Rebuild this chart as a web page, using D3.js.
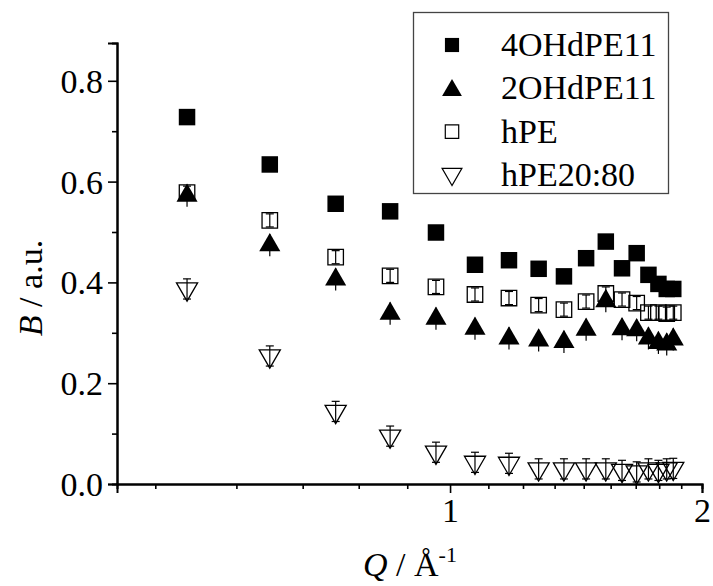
<!DOCTYPE html>
<html>
<head>
<meta charset="utf-8">
<script src="https://cdn.jsdelivr.net/npm/d3@7"></script>
<style>
  html, body { margin: 0; padding: 0; background: #fff; }
  svg { display: block; }
  text { font-family: "Liberation Serif", "Times New Roman", serif; fill: #000; }
</style>
</head>
<body>
<svg id="chart" width="713" height="586"></svg>
<script>
// Scattering vector Q (1/Å), shared by all four samples
const q = [0.485, 0.609, 0.730, 0.848, 0.962, 1.071, 1.176, 1.276, 1.368,
           1.454, 1.535, 1.605, 1.671, 1.726, 1.774, 1.815, 1.848];

// B (a.u.) for each sample
const b4OHdPE11 = [0.728, 0.634, 0.556, 0.541, 0.499, 0.435, 0.444, 0.427, 0.412,
                   0.448, 0.481, 0.428, 0.458, 0.415, 0.397, 0.387, 0.387];
const b2OHdPE11 = [0.572, 0.474, 0.406, 0.338, 0.328, 0.308, 0.289, 0.285, 0.282,
                   0.306, 0.363, 0.307, 0.305, 0.289, 0.280, 0.277, 0.287];
const bhPE      = [0.578, 0.523, 0.450, 0.413, 0.391, 0.376, 0.369, 0.355, 0.346,
                   0.362, 0.378, 0.366, 0.359, 0.340, 0.340, 0.338, 0.340];
const bhPE2080  = [0.387, 0.254, 0.144, 0.095, 0.063, 0.043, 0.041, 0.030, 0.030,
                   0.030, 0.030, 0.027, 0.024, 0.030, 0.027, 0.030, 0.031];

// Error bars (± a.u.)
const e2OHdPE11 = [0.022, 0.022, 0.022, 0.022, 0.022, 0.022, 0.022, 0.022, 0.022,
                   0.022, 0.022, 0.022, 0.022, 0.022, 0.022, 0.022, 0.022];
const ehPE      = [0.013, 0.013, 0.013, 0.013, 0.013, 0.013, 0.013, 0.013, 0.013,
                   0.013, 0.013, 0.013, 0.013, 0.013, 0.013, 0.013, 0.013];
const ehPE2080  = [0.020, 0.020, 0.020, 0.020, 0.020, 0.020, 0.020, 0.020, 0.020,
                   0.020, 0.020, 0.020, 0.020, 0.020, 0.020, 0.020, 0.020];

const seriesNames = ["4OHdPE11", "2OHdPE11", "hPE", "hPE20:80"];

const yTicks = [0.0, 0.2, 0.4, 0.6, 0.8];
const yMinorTicks = [0.1, 0.3, 0.5, 0.7];
const xTicks = [1, 2];
const xMinorTicks = [4/9, 5/9, 6/9, 7/9, 8/9,
                     10/9, 11/9, 12/9, 13/9, 14/9, 15/9, 16/9, 17/9];

const svg = d3.select("#chart");
const plotLeft = 117, plotRight = 702, plotTop = 43, plotBottom = 484;

const x = d3.scaleLog().domain([0.4, 2]).range([plotLeft, plotRight]);
const y = d3.scaleLinear().domain([0, 0.875]).range([plotBottom, plotTop]);

const FONT = 34;

// Axes
const yAxis = d3.axisLeft(y).tickValues(yTicks).tickFormat(d3.format(".1f"))
  .tickSize(9).tickPadding(5);
const yMinor = d3.axisLeft(y).tickValues(yMinorTicks).tickFormat("").tickSize(5);
const xAxis = d3.axisBottom(x).tickValues(xTicks).tickFormat(d3.format("d"))
  .tickSize(9).tickPadding(5);
const xMinor = d3.axisBottom(x).tickValues(xMinorTicks).tickFormat("").tickSize(5);

function styleAxis(g) {
  g.select(".domain").attr("stroke", "#000").attr("stroke-width", 2);
  g.selectAll(".tick line").attr("stroke", "#000").attr("stroke-width", 1.6);
  g.selectAll(".tick text").style("font-size", FONT + "px")
    .style("font-family", '"Liberation Serif", "Times New Roman", serif').attr("fill", "#000");
}

svg.append("g").attr("transform", `translate(${plotLeft},0)`).call(yMinor).call(styleAxis);
svg.append("g").attr("transform", `translate(${plotLeft},0)`).call(yAxis).call(styleAxis)
  .selectAll(".tick text").attr("dy", "0.34em");
svg.append("g").attr("transform", `translate(0,${plotBottom})`).call(xMinor).call(styleAxis);
svg.append("g").attr("transform", `translate(0,${plotBottom})`).call(xAxis).call(styleAxis)
  .selectAll(".tick text").attr("dy", "0.7em");

// Axis titles
const yTitle = svg.append("text")
  .attr("transform", "translate(42,288) rotate(-90)")
  .attr("text-anchor", "middle")
  .style("font-size", FONT + "px");
yTitle.append("tspan").attr("font-style", "italic").text("B");
yTitle.append("tspan").text(" / a.u.");

const xTitle = svg.append("text")
  .attr("x", 410).attr("y", 576)
  .attr("text-anchor", "middle")
  .style("font-size", FONT + "px");
xTitle.append("tspan").attr("font-style", "italic").text("Q");
xTitle.append("tspan").text(" / Å");
xTitle.append("tspan").attr("dy", -14).style("font-size", "22px").text("-1");

// Marker shapes
const sqFilled = d3.symbol().type(d3.symbolSquare).size(272)();
const sqOpen = d3.symbol().type(d3.symbolSquare).size(240)();
const tri = d3.symbol().type(d3.symbolTriangle).size(193)();

const series = [
  { name: seriesNames[0], vals: b4OHdPE11, err: null, path: sqFilled, fill: "#000", rot: 0, cap: 0 },
  { name: seriesNames[1], vals: b2OHdPE11, err: e2OHdPE11, path: tri, fill: "#000", rot: 0, cap: 0 },
  { name: seriesNames[2], vals: bhPE, err: ehPE, path: sqOpen, fill: "none", rot: 0, cap: 8 },
  { name: seriesNames[3], vals: bhPE2080, err: ehPE2080, path: tri, fill: "none", rot: 180, cap: 8 }
];

const plot = svg.append("g");

series.forEach(s => {
  const g = plot.append("g");
  const pts = q.map((qq, i) => ({ q: qq, b: s.vals[i], e: s.err ? s.err[i] : 0 }));
  g.selectAll("path.m").data(pts).join("path")
    .attr("class", "m")
    .attr("d", s.path)
    .attr("transform", d => `translate(${x(d.q)},${y(d.b)}) rotate(${s.rot})`)
    .attr("fill", s.fill)
    .attr("stroke", "#000")
    .attr("stroke-width", s.fill === "none" ? 1.3 : 0);
  if (s.err) {
    const eb = g.selectAll("g.eb").data(pts).join("g").attr("class", "eb");
    eb.append("line")
      .attr("x1", d => x(d.q)).attr("x2", d => x(d.q))
      .attr("y1", d => y(d.b - d.e)).attr("y2", d => y(d.b + d.e))
      .attr("stroke", "#000").attr("stroke-width", 1.2);
    if (s.cap > 0) {
      [-1, 1].forEach(sign => {
        eb.append("line")
          .attr("x1", d => x(d.q) - s.cap / 2).attr("x2", d => x(d.q) + s.cap / 2)
          .attr("y1", d => y(d.b + sign * d.e)).attr("y2", d => y(d.b + sign * d.e))
          .attr("stroke", "#000").attr("stroke-width", 1.2);
      });
    }
  }
});

// Legend
const legend = svg.append("g");
legend.append("rect")
  .attr("x", 413.5).attr("y", 12.5).attr("width", 255).attr("height", 181)
  .attr("fill", "#fff").attr("stroke", "#444").attr("stroke-width", 1.3);

const legendShapes = [
  { path: d3.symbol().type(d3.symbolSquare).size(200)(), fill: "#000", rot: 0 },
  { path: d3.symbol().type(d3.symbolTriangle).size(170)(), fill: "#000", rot: 0 },
  { path: d3.symbol().type(d3.symbolSquare).size(180)(), fill: "none", rot: 0 },
  { path: d3.symbol().type(d3.symbolTriangle).size(170)(), fill: "none", rot: 180 }
];
const legendY = d3.scalePoint().domain(seriesNames).range([45, 175]);

seriesNames.forEach((name, i) => {
  const cy = legendY(name);
  const sh = legendShapes[i];
  legend.append("path")
    .attr("d", sh.path)
    .attr("transform", `translate(452,${cy + (i === 1 ? 2 : i === 3 ? -1 : 0)}) rotate(${sh.rot})`)
    .attr("fill", sh.fill).attr("stroke", "#000")
    .attr("stroke-width", sh.fill === "none" ? 1.2 : 0);
  legend.append("text")
    .attr("x", 501).attr("y", cy + 11)
    .style("font-size", FONT + "px")
    .text(name);
});
</script>
</body>
</html>
